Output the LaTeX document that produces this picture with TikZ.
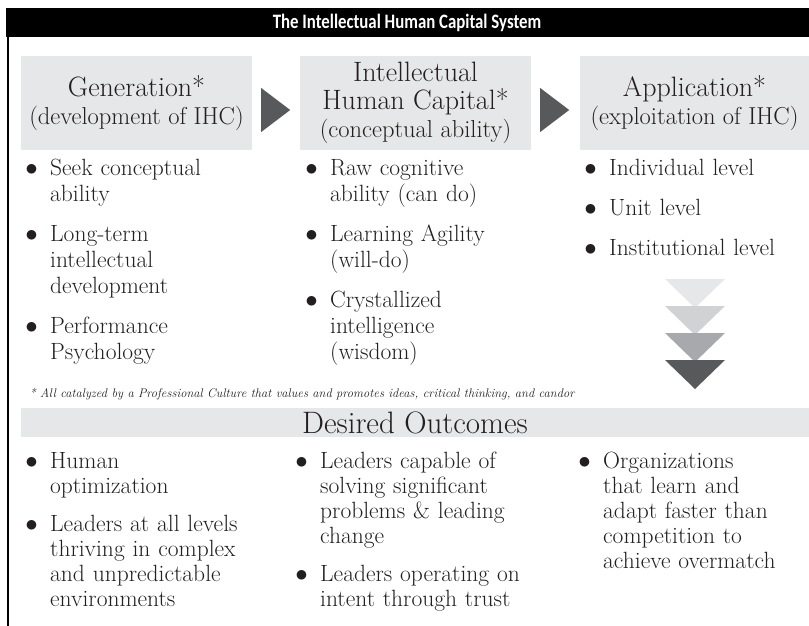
\documentclass[tikz,border=0pt]{standalone}
\usepackage{fontspec}
\usepackage{xcolor}
\usetikzlibrary{positioning}

\newfontfamily\barfont[FakeStretch=0.82]{Carlito}
\definecolor{panel}{HTML}{E6E7E8}
\definecolor{shadeA}{HTML}{D1D2D4}
\definecolor{shadeB}{HTML}{A7A9AC}
\definecolor{shadeC}{HTML}{58595B}
\definecolor{ink}{HTML}{231F20}

\newcommand{\hd}[1]{{\fontsize{28}{28}\selectfont #1}}
\newcommand{\bul}{\llap{$\bullet$\hspace{12.5pt}}}

\begin{document}
\begin{tikzpicture}[x=1pt,y=-1pt,text=ink,
    head/.style={fill=panel,minimum width=231pt,minimum height=94pt,inner sep=0pt,
                 align=center,font=\fontsize{24.5}{28}\selectfont},
    point/.style={text width=240pt,align=left,inner sep=0pt,font=\fontsize{23.5}{26}\selectfont,
                  execute at begin node=\strut\bul,execute at end node=\strut},
    outcome/.style={point,font=\fontsize{23.5}{25}\selectfont},
    chev/.style={fill=shadeC}]
  \useasboundingbox (0,0) rectangle (809,626);

  \fill[black] (6,8) rectangle (809,37);
  \draw[line width=2.5pt] (8,37) -- (8,626);
  \node[text=white,font=\barfont\bfseries\fontsize{20.5}{22}\selectfont] (title) at (407,22.5)
    {The Intellectual Human Capital System};

  \node[head] (gen) at (136.5,103) {\hd{Generation*}\\(development of IHC)};
  \node[head] (ihc) at (415.5,103) {\hd{Intellectual}\\\hd{Human Capital*}\\(conceptual ability)};
  \node[head,minimum width=229pt] (app) at (694.5,103) {\hd{Application*}\\(exploitation of IHC)};

  \fill[chev] ([shift={(9,-15)}]gen.east) -- ([shift={(38,7)}]gen.east) -- ([shift={(9,29)}]gen.east) -- cycle;
  \fill[chev] ([shift={(9,-15)}]ihc.east) -- ([shift={(38,7)}]ihc.east) -- ([shift={(9,29)}]ihc.east) -- cycle;

  \node[point,anchor=north west] (g1) at (50,156.8) {Seek conceptual\\ability};
  \node[point,below right=13.5pt and 0pt of g1.south west] (g2) {Long-term\\intellectual\\development};
  \node[point,below right=13.5pt and 0pt of g2.south west] (g3) {Performance\\Psychology};

  \node[point,anchor=north west] (c1) at (330,156.8) {Raw cognitive\\ability (can do)};
  \node[point,below right=13.5pt and 0pt of c1.south west] (c2) {Learning Agility\\(will-do)};
  \node[point,below right=13.5pt and 0pt of c2.south west] (c3) {Crystallized\\intelligence\\(wisdom)};

  \node[point,anchor=north west] (a1) at (609,156.8) {Individual level};
  \node[point,below right=13.5pt and 0pt of a1.south west] (a2) {Unit level};
  \node[point,below right=13.5pt and 0pt of a2.south west] (a3) {Institutional level};

  \foreach \c [count=\i from 0] in {panel,shadeA,shadeB,shadeC}
    \fill[\c] (665,279+27*\i) -- (725,279+27*\i) -- (695,308+27*\i) -- cycle;

  \node[anchor=base west,font=\itshape\fontsize{12.5}{15}\selectfont] (note) at (26,397)
    {* All catalyzed by a Professional Culture that values and promotes ideas, critical thinking, and candor};

  \node[fill=panel,minimum width=788pt,minimum height=29pt,inner sep=0pt,
        font=\fontsize{31}{29}\selectfont] (out) at (415,422.5) {Desired Outcomes};

  \node[outcome,anchor=north west] (o1) at (50,450.5) {Human\\optimization};
  \node[outcome,below right=13pt and 0pt of o1.south west] (o2)
    {Leaders at all levels\\thriving in complex\\and unpredictable\\environments};

  \node[outcome,anchor=north west] (p1) at (320,450.5)
    {Leaders capable of\\solving significant\\problems \& leading\\change};
  \node[outcome,below right=13pt and 0pt of p1.south west] (p2)
    {Leaders operating on\\intent through trust};

  \node[outcome,anchor=north west] (q1) at (603,450.5)
    {Organizations\\that learn and\\adapt faster than\\competition to\\achieve overmatch};
\end{tikzpicture}
\end{document}
